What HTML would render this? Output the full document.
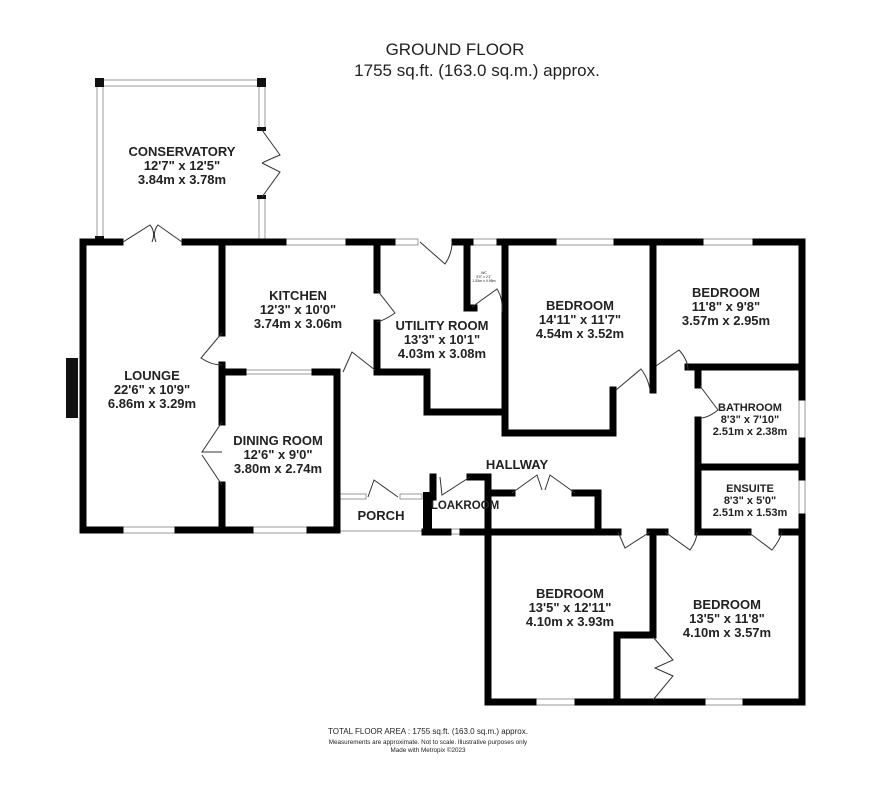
<!DOCTYPE html>
<html><head><meta charset="utf-8"><style>
html,body{margin:0;padding:0;background:#fff;}
svg{display:block;}
.t{font-family:"Liberation Sans",sans-serif;font-weight:bold;fill:#222;text-anchor:middle;}
.h{font-family:"Liberation Sans",sans-serif;fill:#222;text-anchor:middle;}
</style></head><body>
<svg width="886" height="786" viewBox="0 0 886 786" xmlns="http://www.w3.org/2000/svg">
<rect width="886" height="786" fill="#fff"/>
<text class="h" x="455" y="55" font-size="17">GROUND FLOOR</text>
<text class="h" x="477" y="76" font-size="17">1755 sq.ft. (163.0 sq.m.) approx.</text>

<g fill="#fff" stroke="#999" stroke-width="1">
<rect x="98" y="80" width="166" height="6"/>
<rect x="97" y="80" width="6" height="162"/>
<rect x="259" y="80" width="6" height="50"/>
<rect x="259" y="197" width="6" height="45"/>
<rect x="283" y="239" width="66" height="6"/>
<rect x="392" y="239" width="26" height="6"/>
<rect x="470" y="239" width="30" height="6"/>
<rect x="553" y="239" width="64" height="6"/>
<rect x="700" y="239" width="56" height="6"/>
<rect x="799" y="397" width="6" height="44"/>
<rect x="799" y="477" width="6" height="40"/>
<rect x="533" y="699" width="45" height="6"/>
<rect x="702" y="699" width="44" height="6"/>
<rect x="120" y="527" width="58" height="6"/>
<rect x="250" y="527" width="60" height="6"/>
<rect x="243" y="370" width="72" height="4"/>
<rect x="340" y="494" width="26" height="5"/>
<rect x="400" y="494" width="22" height="5"/>
<rect x="448" y="529" width="15" height="5"/>
<line x1="340" y1="531" x2="425" y2="531"/>
</g>
<g fill="#111">
<rect x="95" y="78" width="9" height="9"/><rect x="257" y="78" width="9" height="9"/>
<rect x="257" y="127" width="9" height="4"/><rect x="257" y="195" width="9" height="4"/>
<rect x="95" y="236" width="9" height="9"/>
<rect x="66" y="358" width="12" height="60"/>
</g>

<g stroke="#000" stroke-width="7" stroke-linecap="square" fill="none">
<line x1="83" y1="242" x2="120" y2="242"/>
<line x1="185" y1="242" x2="283" y2="242"/>
<line x1="349" y1="242" x2="392" y2="242"/>
<line x1="455" y1="242" x2="470" y2="242"/>
<line x1="500" y1="242" x2="553" y2="242"/>
<line x1="617" y1="242" x2="700" y2="242"/>
<line x1="756" y1="242" x2="802" y2="242"/>
<line x1="802" y1="242" x2="802" y2="397"/>
<line x1="802" y1="441" x2="802" y2="477"/>
<line x1="802" y1="517" x2="802" y2="702"/>
<line x1="488" y1="702" x2="533" y2="702"/>
<line x1="578" y1="702" x2="702" y2="702"/>
<line x1="746" y1="702" x2="802" y2="702"/>
<line x1="488" y1="532" x2="488" y2="702"/>
<line x1="83" y1="242" x2="83" y2="530"/>
<line x1="83" y1="530" x2="120" y2="530"/>
<line x1="178" y1="530" x2="250" y2="530"/>
<line x1="310" y1="530" x2="337" y2="530"/>
<line x1="222" y1="242" x2="222" y2="333"/>
<line x1="222" y1="365" x2="222" y2="422"/>
<line x1="222" y1="485" x2="222" y2="530"/>
<line x1="222" y1="372" x2="243" y2="372"/>
<line x1="315" y1="372" x2="337" y2="372"/>
<line x1="337" y1="372" x2="337" y2="530"/>
<line x1="377" y1="242" x2="377" y2="290"/>
<line x1="377" y1="323" x2="377" y2="372"/>
<polyline points="377,372 427,372 427,412 503,412"/>
<line x1="467" y1="242" x2="467" y2="308"/>
<line x1="467" y1="308" x2="474" y2="308"/>
<polyline points="505,242 505,433 613,433 613,390"/>
<line x1="653" y1="242" x2="653" y2="390"/>
<line x1="688" y1="367" x2="802" y2="367"/>
<line x1="698" y1="367" x2="698" y2="385"/>
<line x1="698" y1="420" x2="698" y2="532"/>
<line x1="698" y1="467" x2="802" y2="467"/>
<line x1="698" y1="532" x2="748" y2="532"/>
<line x1="782" y1="532" x2="802" y2="532"/>
<line x1="488" y1="532" x2="618" y2="532"/>
<line x1="650" y1="532" x2="665" y2="532"/>
<polyline points="653,532 653,635 617,635 617,702"/>
<line x1="488" y1="493" x2="512" y2="493"/>
<polyline points="575,493 598,493 598,532"/>
<line x1="488" y1="477" x2="488" y2="532"/>
<line x1="470" y1="477" x2="488" y2="477"/>
<line x1="433" y1="477" x2="433" y2="497"/>
<line x1="425" y1="532" x2="448" y2="532"/>
<line x1="463" y1="532" x2="488" y2="532"/>
</g>
<rect x="423" y="492" width="9" height="42" fill="#000"/>

<g stroke="#333" stroke-width="1" fill="none">
<path d="M123,242 L150,225 Q156,232 152,242 M182,242 L158,225 Q152,232 156,242"/>
<path d="M262,130 L280,155 Q268,160 262,163 M262,197 L280,172 Q268,166 262,163"/>
<path d="M377,290 L395,313 Q385,320 377,322"/>
<path d="M222,333 L201,358 Q211,365 222,365"/>
<path d="M222,422 L202,452 Q212,452 222,452 M222,485 L202,455"/>
<path d="M343,372 L352,352 L375,370"/>
<path d="M420,242 L445,264 Q452,254 452,242"/>
<path d="M472,307 L497,289 Q503,298 502,312"/>
<path d="M616,390 L641,369 Q648,378 650,390"/>
<path d="M656,366 L679,350 Q688,360 688,370"/>
<path d="M700,386 L718,410 Q708,418 700,418"/>
<path d="M368,497 L374,480 L398,497"/>
<path d="M440,477 L442,495 L470,477"/>
<path d="M512,493 L537,475 L542,490 M575,493 L550,475 L545,490"/>
<path d="M618,532 L625,548 L650,532"/>
<path d="M665,532 L690,550 Q697,540 697,532"/>
<path d="M748,532 L772,550 Q780,540 782,532"/>
<path d="M653,637 L673,660 L655,668 L673,676 L653,700"/>
</g>

<g class="t" font-size="13">
<text x="182" y="156">CONSERVATORY</text><text x="182" y="170">12'7"  x 12'5"</text><text x="182" y="184">3.84m  x 3.78m</text>
<text x="298" y="300">KITCHEN</text><text x="298" y="314">12'3"  x 10'0"</text><text x="298" y="328">3.74m  x 3.06m</text>
<text x="152" y="380">LOUNGE</text><text x="152" y="394">22'6"  x 10'9"</text><text x="152" y="408">6.86m  x 3.29m</text>
<text x="278" y="445">DINING ROOM</text><text x="278" y="459">12'6"  x 9'0"</text><text x="278" y="473">3.80m  x 2.74m</text>
<text x="442" y="330">UTILITY ROOM</text><text x="442" y="344">13'3"  x 10'1"</text><text x="442" y="358">4.03m  x 3.08m</text>
<text x="580" y="310">BEDROOM</text><text x="580" y="324">14'11"  x 11'7"</text><text x="580" y="338">4.54m  x 3.52m</text>
<text x="726" y="297">BEDROOM</text><text x="726" y="311">11'8"  x 9'8"</text><text x="726" y="325">3.57m  x 2.95m</text>
<text x="570" y="598">BEDROOM</text><text x="570" y="612">13'5"  x 12'11"</text><text x="570" y="626">4.10m  x 3.93m</text>
<text x="727" y="609">BEDROOM</text><text x="727" y="623">13'5"  x 11'8"</text><text x="727" y="637">4.10m  x 3.57m</text>
<text x="517" y="469">HALLWAY</text>
<text x="381" y="520">PORCH</text>
</g>
<g class="t" font-size="11">
<text x="750" y="411">BATHROOM</text><text x="750" y="423">8'3"  x 7'10"</text><text x="750" y="435">2.51m  x 2.38m</text>
<text x="750" y="492">ENSUITE</text><text x="750" y="504">8'3"  x 5'0"</text><text x="750" y="516">2.51m  x 1.53m</text>
<text x="465" y="509" font-size="11.5">LOAKROOM</text>
</g>
<g class="h" font-size="3.5">
<text x="484" y="274">WC</text><text x="484" y="278">5'0" x 2'1"</text><text x="484" y="282">1.53m x 0.98m</text>
</g>
<text class="h" x="428" y="734" font-size="8">TOTAL FLOOR AREA : 1755 sq.ft. (163.0 sq.m.) approx.</text>
<text class="h" x="428" y="744" font-size="6.3">Measurements are approximate.  Not to scale.  Illustrative purposes only</text>
<text class="h" x="428" y="752" font-size="6.3">Made with Metropix ©2023</text>
</svg>
</body></html>
